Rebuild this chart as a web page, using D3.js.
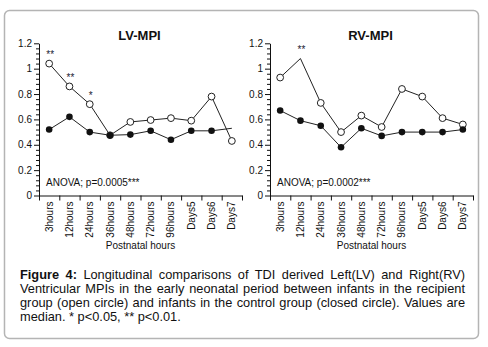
<!DOCTYPE html>
<html>
<head>
<meta charset="utf-8">
<script src="https://cdn.jsdelivr.net/npm/d3@7"></script>
<style>
  body { margin: 0; background: #fff; }
  #wrapper { position: relative; width: 488px; height: 347px; font-family: Arial, "Liberation Sans", sans-serif; }
  #caption { position: absolute; left: 20px; top: 268px; width: 445px; font-size: 12.8px; line-height: 14.1px; color: #111; }
  #caption div { text-align: justify; text-align-last: justify; white-space: nowrap; }
  #caption div.last { text-align-last: left; }
</style>
</head>
<body>
<div id="wrapper"></div>
<script>
// categories along the x axis
const categories = ["3hours", "12hours", "24hours", "36hours", "48hours", "72hours", "96hours", "Days5", "Days6", "Days7"]

// median MPI values
const lvRecipient = [1.04, 0.86, 0.72, 0.475, 0.58, 0.595, 0.61, 0.59, 0.78, 0.43]
const lvControl = [0.52, 0.62, 0.50, 0.475, 0.48, 0.51, 0.44, 0.51, 0.51, 0.53]
const rvRecipient = [0.93, 1.08, 0.73, 0.50, 0.63, 0.54, 0.84, 0.78, 0.61, 0.56]
const rvControl = [0.67, 0.59, 0.55, 0.38, 0.53, 0.47, 0.50, 0.50, 0.50, 0.52]

// significance marks above the recipient points
const lvStars = [["3hours", "**"], ["12hours", "**"], ["24hours", "*"]]
const rvStars = [["12hours", "**"]]

// points that show no marker in the original
const lvControlNoDot = ["Days7"]
const rvRecipientNoDot = ["12hours"]

const yTicks = [0, 0.2, 0.4, 0.6, 0.8, 1, 1.2]
const yMinorTicks = d3.range(0, 61).map(i => i * 0.02).filter((d, i) => i % 2 === 0 && i % 10 !== 0)

const captionLines = [
    ["Figure 4:", " Longitudinal comparisons of TDI derived Left(LV) and Right(RV)"],
    ["", "Ventricular MPIs in the early neonatal period between infants in the recipient"],
    ["", "group (open circle) and infants in the control group (closed circle). Values are"],
    ["", "median. * p<0.05, ** p<0.01."],
]

const panels = [
    { title: "LV-MPI", left: 39, rec: lvRecipient, ctrl: lvControl, stars: lvStars,
      anova: "ANOVA; p=0.0005***", recNoDot: [], ctrlNoDot: lvControlNoDot },
    { title: "RV-MPI", left: 270, rec: rvRecipient, ctrl: rvControl, stars: rvStars,
      anova: "ANOVA; p=0.0002***", recNoDot: rvRecipientNoDot, ctrlNoDot: [] },
]

const dimensions = { width: 488, height: 347, plotWidth: 203, top: 43.3, bottom: 195.5 }

const wrapper = d3.select("#wrapper")
const svg = wrapper.append("svg")
    .attr("width", dimensions.width)
    .attr("height", dimensions.height)
    .style("position", "absolute")
    .style("left", 0).style("top", 0)

// outer rounded frame
svg.append("rect")
    .attr("x", 4.5).attr("y", 10.5)
    .attr("width", 474).attr("height", 328)
    .attr("rx", 5)
    .attr("fill", "none")
    .attr("stroke", "#b4b4b4")
    .attr("stroke-width", 1.5)

const yScale = d3.scaleLinear()
    .domain([0, 1.2])
    .range([dimensions.bottom, dimensions.top])

panels.forEach(p => {
    const xBand = d3.scaleBand()
        .domain(categories)
        .range([p.left, p.left + dimensions.plotWidth])
    const xEdges = d3.scaleLinear()
        .domain([0, categories.length])
        .range([p.left, p.left + dimensions.plotWidth])
    const cx = c => xBand(c) + xBand.bandwidth() / 2

    const g = svg.append("g").style("font-family", "Arial, 'Liberation Sans', sans-serif")

    g.append("text")
        .attr("x", p.left + dimensions.plotWidth / 2 - 1)
        .attr("y", 40)
        .attr("text-anchor", "middle")
        .attr("font-size", 13)
        .attr("font-weight", "bold")
        .attr("fill", "#111")
        .text(p.title)

    // y axis with minor ticks
    g.append("g")
        .attr("transform", `translate(${p.left},0)`)
        .call(d3.axisLeft(yScale)
            .tickValues(yTicks)
            .tickSize(5)
            .tickSizeOuter(0)
            .tickPadding(2)
            .tickFormat(d => String(+d.toFixed(1))))
    g.append("g")
        .attr("transform", `translate(${p.left},0)`)
        .call(d3.axisLeft(yScale).tickValues(yMinorTicks).tickSize(3).tickFormat(""))
        .call(a => a.select(".domain").remove())

    // x axis: ticks at band edges
    g.append("g")
        .attr("transform", `translate(0,${dimensions.bottom})`)
        .call(d3.axisBottom(xEdges)
            .tickValues(d3.range(0, categories.length + 1))
            .tickSize(5)
            .tickSizeOuter(0)
            .tickFormat(""))

    g.selectAll("g.tick line, path.domain").attr("stroke", "#111")
    g.selectAll("g.tick text").attr("font-size", 10).attr("fill", "#111")
        .style("font-family", "Arial, 'Liberation Sans', sans-serif")

    g.selectAll(".xlabel")
        .data(categories)
        .join("text")
            .attr("class", "xlabel")
            .attr("transform", d => `translate(${cx(d)},${dimensions.bottom + 6}) rotate(-90)`)
            .attr("dy", "0.35em")
            .attr("text-anchor", "end")
            .attr("font-size", 10)
            .attr("fill", "#111")
            .text(d => d)

    g.append("text")
        .attr("x", p.left + dimensions.plotWidth / 2)
        .attr("y", 249)
        .attr("text-anchor", "middle")
        .attr("font-size", 10)
        .attr("fill", "#111")
        .text("Postnatal hours")

    g.append("text")
        .attr("x", p.left + 7)
        .attr("y", 186)
        .attr("font-size", 10)
        .attr("fill", "#111")
        .text(p.anova)

    const line = d3.line()
        .x((d, i) => cx(categories[i]))
        .y(d => yScale(d))

    g.append("path")
        .attr("d", line(p.rec))
        .attr("fill", "none")
        .attr("stroke", "#222")
        .attr("stroke-width", 1)
    g.append("path")
        .attr("d", line(p.ctrl))
        .attr("fill", "none")
        .attr("stroke", "#222")
        .attr("stroke-width", 1)

    // open circles: recipient group
    g.selectAll(".rec")
        .data(p.rec.map((v, i) => ({ c: categories[i], v })).filter(d => !p.recNoDot.includes(d.c)))
        .join("circle")
            .attr("class", "rec")
            .attr("cx", d => cx(d.c))
            .attr("cy", d => yScale(d.v))
            .attr("r", 3.4)
            .attr("fill", "#fff")
            .attr("stroke", "#222")
            .attr("stroke-width", 1)

    // closed circles: control group
    g.selectAll(".ctrl")
        .data(p.ctrl.map((v, i) => ({ c: categories[i], v })).filter(d => !p.ctrlNoDot.includes(d.c)))
        .join("circle")
            .attr("class", "ctrl")
            .attr("cx", d => cx(d.c))
            .attr("cy", d => yScale(d.v))
            .attr("r", 3.3)
            .attr("fill", "#111")

    g.selectAll(".star")
        .data(p.stars)
        .join("text")
            .attr("class", "star")
            .attr("x", d => cx(d[0]) + 1)
            .attr("y", d => yScale(p.rec[categories.indexOf(d[0])]) - 11 + 5.5)
            .attr("text-anchor", "middle")
            .attr("font-size", 10)
            .attr("fill", "#223")
            .text(d => d[1])
})

// caption, one justified line per div
const caption = wrapper.append("div").attr("id", "caption")
captionLines.forEach((l, i) => {
    const row = caption.append("div").classed("last", i === captionLines.length - 1)
    if (l[0]) row.append("b").text(l[0])
    row.append("span").text(l[1])
})
</script>
</body>
</html>
